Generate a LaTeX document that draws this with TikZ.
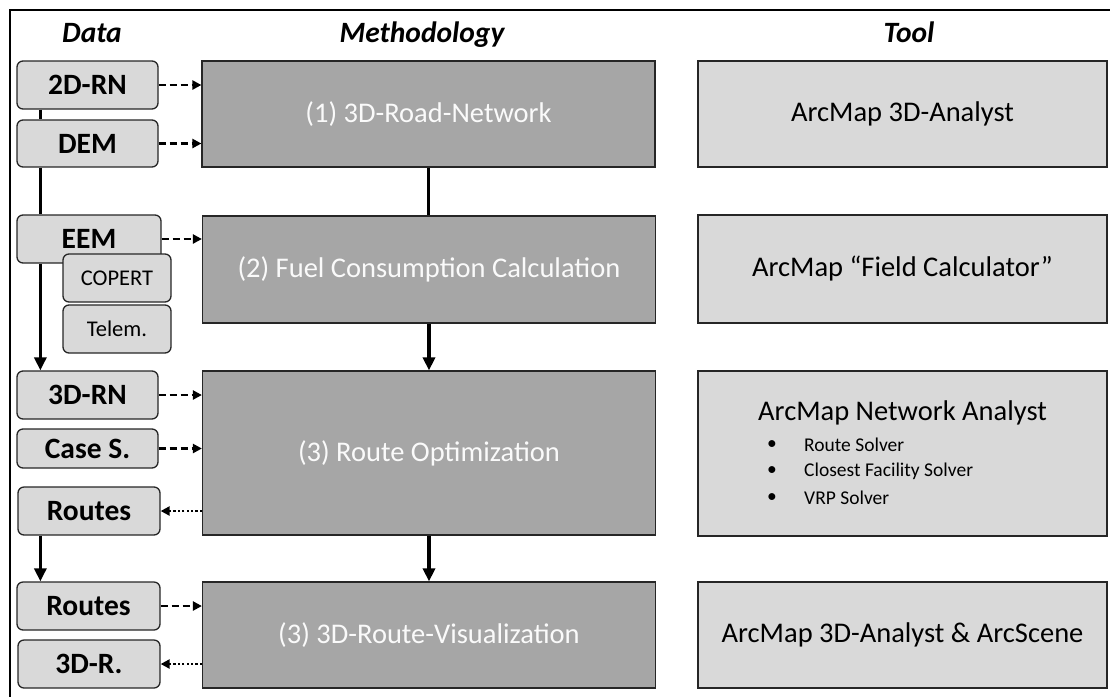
\documentclass[tikz,border=0pt]{standalone}
\usepackage{fontspec}
\setmainfont{Carlito}
\usetikzlibrary{arrows.meta}
\definecolor{methgray}{HTML}{A6A6A6}
\definecolor{boxgray}{HTML}{D9D9D9}
\definecolor{softwhite}{HTML}{FAFAFA}
\newcommand{\bigtext}{\fontsize{28.5}{33}\selectfont}
\newcommand{\datatext}{\fontsize{29.5}{34}\selectfont}
\newcommand{\smalltext}{\fontsize{19.5}{23}\selectfont}

\begin{document}
\begin{tikzpicture}[x=1pt,y=-1pt,
    data/.style={draw=black!85, line width=1.3pt, fill=boxgray, rounded corners=6pt,
      minimum width=141pt, minimum height=48pt, inner sep=0pt, font=\datatext\bfseries},
    sub/.style={data, minimum width=108pt, font=\fontsize{22.5}{26}\selectfont},
    meth/.style={draw=black!85, line width=1.2pt, fill=methgray, minimum width=453pt,
      inner sep=0pt, text=softwhite, font=\bigtext},
    tool/.style={draw=black!85, line width=1.2pt, fill=boxgray, minimum width=409pt,
      inner sep=0pt, font=\bigtext},
    head/.style={anchor=base, font=\datatext\bfseries\itshape},
    flow/.style={line width=3.2pt, -{Triangle[length=13pt,width=12pt]}},
    link/.style={line width=3.2pt},
    feed/.style={line width=2.6pt, dash pattern=on 7pt off 4pt, -{Triangle[length=9pt,width=9pt]}},
    back/.style={line width=2.6pt, dash pattern=on 2.2pt off 2.2pt, -{Triangle[length=9pt,width=9pt]}}]
  \useasboundingbox (0,0) rectangle (1110,697);
  \draw[line width=1.2pt] (1110,10) -- (10,10) -- (10,697);

  % headings
  \node[head] (hdata) at (92,42) {Data};
  \node[head] (hmeth) at (422,42) {Methodology};
  \node[head] (htool) at (909,42) {Tool};

  % methodology
  \node[meth, minimum height=106pt] (m1) at (428.5,114) {(1) 3D-Road-Network};
  \node[meth, minimum height=107pt] (m2) at (429,269.5) {(2) Fuel Consumption Calculation};
  \node[meth, minimum height=164pt] (m3) at (429,453) {(3) Route Optimization};
  \node[meth, minimum height=106pt] (m4) at (429,635) {(3) 3D-Route-Visualization};

  % tools
  \node[tool, minimum height=106pt] (t1) at (902.5,114) {ArcMap 3D-Analyst};
  \node[tool, minimum height=108pt] (t2) at (902.5,269) {ArcMap “Field Calculator”};
  \node[tool, minimum height=165pt] (t3) at (902.5,453.5) {};
  \node[tool, minimum height=106pt] (t4) at (902.5,635) {ArcMap 3D-Analyst \& ArcScene};
  \node[font=\bigtext] (t3title) at (902.5,413) {ArcMap Network Analyst};
  \foreach \txt [count=\i] in {Route Solver, Closest Facility Solver, VRP Solver}{
    \node[font=\smalltext] (dot\i) at (772,418.5+26.5*\i) {\textbullet};
    \node[font=\smalltext, anchor=west, inner sep=0pt] (item\i) at (804,418.5+26.5*\i) {\txt};
  }

  % data
  \node[data] (rn2d) at (87.5,85) {2D-RN};
  \node[data, minimum height=47pt] (dem) at (87.5,143.5) {DEM};
  \node[data, minimum width=144pt] (eem) at (89,239) {EEM};
  \node[sub] (copert) at (117,278) {COPERT};
  \node[sub] (telem) at (117,329) {Telem.};
  \node[data] (rn3d) at (87.5,395) {3D-RN};
  \node[data, minimum height=39pt] (cases) at (87.5,448.5) {Case S.};
  \node[data, minimum width=142pt] (routes) at (89,511) {Routes};
  \node[data, minimum width=143pt] (routesb) at (88.5,606) {Routes};
  \node[data, minimum width=142pt] (r3d) at (89,664) {3D-R.};

  % data flow on the left
  \draw[link] ([xshift=24pt]rn2d.south west) -- ([xshift=24pt]rn2d.south west |- dem.north);
  \draw[link] ([xshift=24pt]dem.south west) -- ([xshift=24pt]dem.south west |- eem.north);
  \draw[flow] ([xshift=24pt]eem.south west) -- ([xshift=24pt]eem.south west |- rn3d.north);
  \draw[flow] ([xshift=23pt]routes.south west) -- ([xshift=23pt]routes.south west |- routesb.north);

  % methodology flow
  \draw[link] (m1.south) -- (m1.south |- m2.north);
  \draw[flow] (m2.south) -- (m3.north);
  \draw[flow] (m3.south) -- (m4.north);

  % inputs and outputs
  \draw[feed] (rn2d.east) -- (rn2d.east -| m1.west);
  \draw[feed] (dem.east) -- (dem.east -| m1.west);
  \draw[feed] (eem.east) -- (eem.east -| m2.west);
  \draw[feed] (rn3d.east) -- (rn3d.east -| m3.west);
  \draw[feed] (cases.east) -- (cases.east -| m3.west);
  \draw[back] (routes.east -| m3.west) -- (routes.east);
  \draw[feed] (routesb.east) -- (routesb.east -| m4.west);
  \draw[back] (r3d.east -| m4.west) -- (r3d.east);
\end{tikzpicture}
\end{document}
